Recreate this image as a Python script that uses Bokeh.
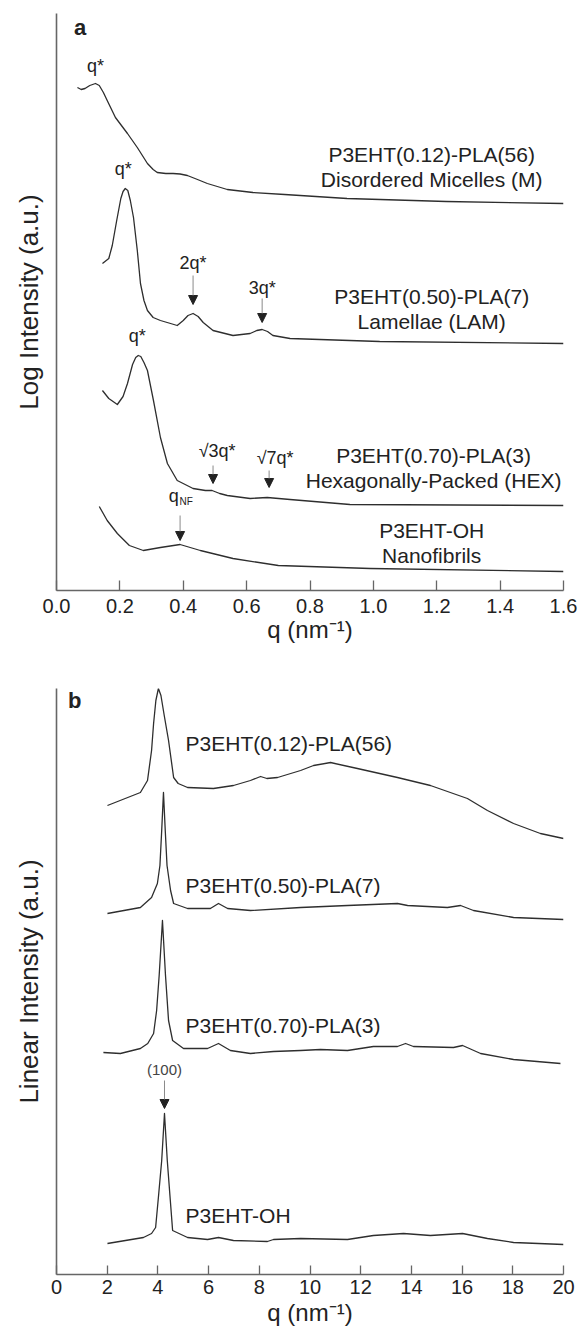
from bokeh.plotting import figure
from bokeh.layouts import column
from bokeh.models import Range1d, FixedTicker, Label, Arrow, NormalHead
from bokeh.embed import file_html
from bokeh.resources import INLINE

FONT = "Liberation Sans"
LINE = "#2e2e2e"
AXIS = "#666666"

# ---------------- Panel a : SAXS (log intensity, offset) ----------------
q_M = [0.066, 0.078, 0.09, 0.105, 0.123, 0.135, 0.148, 0.16, 0.186, 0.224, 0.255, 0.287, 0.305, 0.318,
       0.345, 0.368, 0.39, 0.413, 0.445, 0.476, 0.539, 0.62, 0.72, 0.917, 1.23, 1.6]
I_M = [5.03, 5.01, 5.02, 5.05, 5.07, 5.05, 4.98, 4.90, 4.73, 4.57, 4.43, 4.27, 4.21, 4.18,
       4.17, 4.17, 4.165, 4.15, 4.11, 4.07, 4.01, 3.98, 3.96, 3.92, 3.89, 3.87]

q_LAM = [0.145, 0.165, 0.176, 0.19, 0.203, 0.21, 0.217, 0.225, 0.233, 0.243, 0.255, 0.265, 0.276, 0.287,
         0.305, 0.328, 0.36, 0.381, 0.40, 0.415, 0.431, 0.447, 0.463, 0.494, 0.557, 0.611, 0.632, 0.649,
         0.666, 0.683, 0.737, 1.02, 1.6]
I_LAM = [3.27, 3.32, 3.45, 3.70, 3.92, 3.99, 4.02, 4.00, 3.90, 3.73, 3.40, 3.07, 2.90, 2.80,
         2.73, 2.70, 2.67, 2.65, 2.70, 2.75, 2.77, 2.74, 2.68, 2.60, 2.55, 2.57, 2.60, 2.61,
         2.59, 2.55, 2.52, 2.49, 2.47]

q_HEX = [0.145, 0.165, 0.192, 0.21, 0.224, 0.24, 0.25, 0.258, 0.266, 0.276, 0.287, 0.306, 0.328, 0.35,
         0.381, 0.431, 0.47, 0.491, 0.515, 0.539, 0.611, 0.665, 0.737, 0.926, 1.6]
I_HEX = [2.00, 1.92, 1.86, 1.94, 2.07, 2.26, 2.33, 2.35, 2.34, 2.28, 2.20, 1.90, 1.53, 1.27,
         1.10, 1.02, 1.00, 1.00, 0.97, 0.95, 0.92, 0.93, 0.91, 0.86, 0.85]

q_OH = [0.135, 0.16, 0.192, 0.23, 0.274, 0.328, 0.39, 0.454, 0.557, 0.70, 0.99, 1.6]
I_OH = [0.84, 0.70, 0.57, 0.45, 0.40, 0.43, 0.46, 0.40, 0.32, 0.25, 0.22, 0.19]

a_xticks = [0.0, 0.2, 0.4, 0.6, 0.8, 1.0, 1.2, 1.4, 1.6]
a_names = [("P3EHT(0.12)-PLA(56)", "Disordered Micelles (M)"),
           ("P3EHT(0.50)-PLA(7)", "Lamellae (LAM)"),
           ("P3EHT(0.70)-PLA(3)", "Hexagonally-Packed (HEX)"),
           ("P3EHT-OH", "Nanofibrils")]
a_name_x = [1.184, 1.184, 1.19, 1.184]
a_name_y = [4.36, 2.94, 1.35, 0.60]
a_name_dy = 0.245

# peak labels (text, x, y) and arrows (x, y_start, y_end)
a_peak_text = ["q*", "q*", "2q*", "3q*", "q*", "√3q*", "√7q*"]
a_peak_tx = [0.123, 0.211, 0.431, 0.649, 0.255, 0.507, 0.69]
a_peak_ty = [5.25, 4.22, 3.28, 3.03, 2.55, 1.40, 1.33]
a_arrow_x = [0.431, 0.649, 0.494, 0.671, 0.39]
a_arrow_y0 = [3.15, 2.92, 1.25, 1.20, 0.75]
a_arrow_y1 = [2.86, 2.68, 1.07, 1.03, 0.50]

# ---------------- Panel b : WAXS (linear intensity, offset) ----------------
q_b1 = [2.01, 3.31, 3.59, 3.75, 3.83, 3.92, 4.02, 4.12, 4.25, 4.42, 4.62, 4.8, 5.17, 6.19, 6.98, 7.65,
        8.05, 8.3, 8.72, 9.63, 10.14, 10.81, 11.87, 13.45, 14.75, 16.21, 17.0, 18.03, 19.09, 20.0]
I_b1 = [4.69, 4.82, 4.94, 5.24, 5.51, 5.74, 5.86, 5.79, 5.59, 5.34, 4.97, 4.91, 4.87, 4.86, 4.89, 4.94,
        4.98, 4.96, 4.97, 5.04, 5.09, 5.12, 5.06, 4.97, 4.89, 4.76, 4.64, 4.51, 4.41, 4.36]

q_b2 = [2.01, 3.31, 3.75, 3.98, 4.08, 4.15, 4.22, 4.29, 4.36, 4.5, 4.62, 5.17, 6.07, 6.39, 6.75, 7.65,
        9.63, 11.48, 13.45, 13.85, 15.42, 15.94, 16.45, 18.03, 20.0]
I_b2 = [3.61, 3.67, 3.77, 3.91, 4.09, 4.44, 4.82, 4.44, 4.09, 3.84, 3.71, 3.66, 3.66, 3.71, 3.66, 3.64,
        3.67, 3.69, 3.71, 3.69, 3.67, 3.69, 3.64, 3.57, 3.55]

q_b3 = [1.85, 2.52, 3.31, 3.6, 3.83, 3.95, 4.05, 4.18, 4.3, 4.42, 4.58, 5.01, 5.96, 6.39, 6.86, 7.65,
        8.56, 9.63, 10.41, 11.48, 12.5, 13.45, 13.77, 14.08, 15.66, 16.02, 16.73, 18.03, 19.88]
I_b3 = [2.22, 2.21, 2.26, 2.31, 2.41, 2.64, 2.99, 3.54, 2.99, 2.54, 2.34, 2.26, 2.26, 2.31, 2.24, 2.21,
        2.23, 2.24, 2.25, 2.24, 2.28, 2.28, 2.31, 2.28, 2.27, 2.29, 2.21, 2.15, 2.11]

q_b4 = [2.01, 3.43, 3.75, 3.91, 4.03, 4.15, 4.26, 4.37, 4.49, 4.58, 5.17, 5.96, 6.39, 6.98, 8.32, 8.56,
        9.63, 11.48, 12.5, 13.69, 14.75, 16.02, 17.0, 18.03, 20.0]
I_b4 = [0.31, 0.37, 0.41, 0.47, 0.80, 1.14, 1.61, 1.14, 0.74, 0.44, 0.37, 0.35, 0.37, 0.34, 0.33, 0.35,
        0.36, 0.35, 0.39, 0.41, 0.39, 0.41, 0.36, 0.32, 0.30]

b_xticks = [0, 2, 4, 6, 8, 10, 12, 14, 16, 18, 20]
b_names = ["P3EHT(0.12)-PLA(56)", "P3EHT(0.50)-PLA(7)", "P3EHT(0.70)-PLA(3)", "P3EHT-OH"]
b_name_x = 5.09
b_name_y = [5.31, 3.89, 2.49, 0.59]
b_hkl_text, b_hkl_x, b_hkl_y = "(100)", 4.26, 2.05
b_arrow_y0, b_arrow_y1 = 1.94, 1.66


def base_fig(height, xr, yr, top, bottom, right, ticks, tick_in, lab_standoff, title_standoff, ylabel):
    p = figure(width=582, height=height, x_range=Range1d(*xr), y_range=Range1d(*yr),
               output_backend="svg", toolbar_location=None,
               min_border_left=56, min_border_right=right, min_border_top=top, min_border_bottom=bottom)
    p.outline_line_color = None
    p.xgrid.visible = False
    p.ygrid.visible = False
    p.background_fill_color = "white"
    p.border_fill_color = "white"
    xa = p.xaxis[0]
    xa.ticker = FixedTicker(ticks=ticks)
    xa.minor_tick_line_color = None
    xa.major_tick_in = tick_in
    xa.major_tick_out = 0
    xa.major_tick_line_color = AXIS
    xa.major_tick_line_width = 1.3
    xa.axis_line_color = AXIS
    xa.axis_line_width = 1.6
    xa.major_label_text_font = FONT
    xa.major_label_text_font_size = "20px"
    xa.major_label_text_color = "#222222"
    xa.major_label_standoff = lab_standoff
    xa.axis_label = "q (nm⁻¹)"
    xa.axis_label_text_font = FONT
    xa.axis_label_text_font_style = "normal"
    xa.axis_label_text_font_size = "24px"
    xa.axis_label_text_color = "#222222"
    xa.axis_label_standoff = title_standoff
    ya = p.yaxis[0]
    ya.ticker = FixedTicker(ticks=[])
    ya.minor_tick_line_color = None
    ya.major_tick_line_color = None
    ya.axis_line_color = AXIS
    ya.axis_line_width = 1.6
    ya.axis_label = ylabel
    ya.axis_label_text_font = FONT
    ya.axis_label_text_font_style = "normal"
    ya.axis_label_text_font_size = "26px"
    ya.axis_label_text_color = "#222222"
    ya.axis_label_standoff = 13
    return p


def txt(p, x, y, s, size, align="center", bold=False, color="#222222", baseline="middle"):
    p.add_layout(Label(x=x, y=y, text=s, text_font=FONT, text_font_size=size,
                       text_align=align, text_baseline=baseline, text_color=color,
                       text_font_style="bold" if bold else "normal"))


def arrow(p, x, y0, y1):
    p.add_layout(Arrow(x_start=x, y_start=y0, x_end=x, y_end=y1, line_color="#8a8a8a", line_width=1,
                       end=NormalHead(size=9, fill_color="#222222", line_color="#222222", line_width=1)))


# ----- panel a
pa = base_fig(655, (0, 1.6), (0, 5.77), 13, 65, 18, a_xticks, 10, 8, 0, "Log Intensity (a.u.)")
pa.xaxis[0].major_label_overrides = {t: f"{t:.1f}" for t in a_xticks}
for qs, Is in [(q_M, I_M), (q_LAM, I_LAM), (q_HEX, I_HEX), (q_OH, I_OH)]:
    pa.line(qs, Is, line_color=LINE, line_width=1.3, line_join="round")
for (n1, n2), x, y in zip(a_names, a_name_x, a_name_y):
    txt(pa, x, y, n1, "21px")
    txt(pa, x, y - a_name_dy, n2, "21px")
for s, x, y in zip(a_peak_text, a_peak_tx, a_peak_ty):
    txt(pa, x, y, s, "18px")
txt(pa, 0.386, 0.95, "q", "18px", align="right")
txt(pa, 0.388, 0.895, "NF", "10px", align="left")
for x, y0, y1 in zip(a_arrow_x, a_arrow_y0, a_arrow_y1):
    arrow(pa, x, y0, y1)
txt(pa, 0.055, 5.63, "a", "22px", align="left", bold=True)

# ----- panel b
pb = base_fig(680, (0, 20), (0, 5.86), 33, 61, 19, b_xticks, 9, 5, 2, "Linear Intensity (a.u.)")
for qs, Is in [(q_b1, I_b1), (q_b2, I_b2), (q_b3, I_b3), (q_b4, I_b4)]:
    pb.line(qs, Is, line_color=LINE, line_width=1.3, line_join="round")
for s, y in zip(b_names, b_name_y):
    txt(pb, b_name_x, y, s, "21px", align="left")
txt(pb, b_hkl_x, b_hkl_y, b_hkl_text, "15px", color="#444444")
arrow(pb, b_hkl_x, b_arrow_y0, b_arrow_y1)
txt(pb, 0.45, 5.74, "b", "22px", align="left", bold=True)

layout = column(pa, pb, spacing=0)
open("out.html", "w").write(file_html(layout, INLINE))
